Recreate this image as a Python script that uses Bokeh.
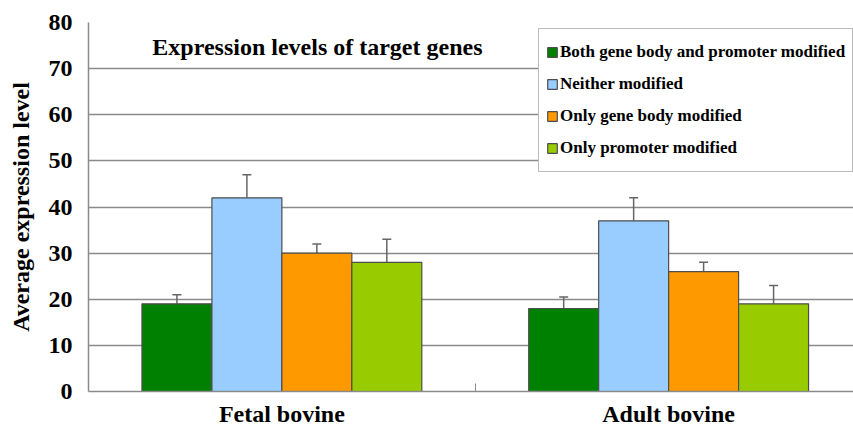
from bokeh.plotting import figure
from bokeh.models import (ColumnDataSource, Whisker, TeeHead, Legend, LegendItem,
                          FixedTicker, Label, Range1d)
from bokeh.embed import file_html
from bokeh.resources import INLINE

groups = ["Fetal bovine", "Adult bovine"]
series = ["Both gene body and promoter modified", "Neither modified",
          "Only gene body modified", "Only promoter modified"]
colors = ["#008000", "#99CCFF", "#FF9900", "#99CC00"]
values = {
    "Both gene body and promoter modified": [19, 18],
    "Neither modified": [42, 37],
    "Only gene body modified": [30, 26],
    "Only promoter modified": [28, 19],
}
errors = {
    "Both gene body and promoter modified": [2, 2.5],
    "Neither modified": [5, 5],
    "Only gene body modified": [2, 2],
    "Only promoter modified": [5, 4],
}
y_ticks = [0, 10, 20, 30, 40, 50, 60, 70, 80]
title_text = "Expression levels of target genes"
y_label = "Average expression level"

FONT = "Liberation Serif"
GRID = "#8a8a8a"

p = figure(width=853, height=429, output_backend="svg", toolbar_location=None,
           x_range=Range1d(0.5, 2.478), y_range=Range1d(0, 80),
           min_border_left=88, min_border_right=0, min_border_top=22,
           min_border_bottom=38, background_fill_color="white",
           border_fill_color="white")
p.outline_line_color = None

group_x = [i + 1 for i in range(len(groups))]
bar_w = 0.1809
renderers = []
for i, s in enumerate(series):
    xs = [g + (i - 1.5) * bar_w for g in group_x]
    top = values[s]
    up = [t + e for t, e in zip(top, errors[s])]
    src = ColumnDataSource(dict(x=xs, top=top, up=up))
    r = p.vbar(x="x", top="top", width=bar_w, source=src, fill_color=colors[i],
               line_color="#4d4d4d", line_width=1.2)
    renderers.append((s, r))
    w = Whisker(base="x", upper="up", lower="top", source=src,
                line_color="#666666", line_width=1.5,
                upper_head=TeeHead(size=9, line_color="#666666", line_width=1.5),
                lower_head=None)
    p.add_layout(w)

# axes
p.xaxis.ticker = FixedTicker(ticks=group_x, minor_ticks=[1.5])
p.xaxis.major_label_overrides = {g: groups[i] for i, g in enumerate(group_x)}
p.xaxis.major_label_text_font = FONT
p.xaxis.major_label_text_font_style = "bold"
p.xaxis.major_label_text_font_size = "24px"
p.xaxis.major_label_text_color = "black"
p.xaxis.major_label_standoff = 9
p.xaxis.major_tick_in = 0
p.xaxis.major_tick_out = 0
p.xaxis.minor_tick_in = 8
p.xaxis.minor_tick_out = 0
p.xaxis.minor_tick_line_color = GRID
p.xaxis.axis_line_color = GRID
p.xaxis.axis_line_width = 1.5

p.yaxis.ticker = FixedTicker(ticks=y_ticks)
p.yaxis.major_label_text_font = FONT
p.yaxis.major_label_text_font_style = "bold"
p.yaxis.major_label_text_font_size = "24px"
p.yaxis.major_label_text_color = "black"
p.yaxis.major_label_standoff = 16
p.yaxis.major_tick_in = 0
p.yaxis.major_tick_out = 0
p.yaxis.minor_tick_line_color = None
p.yaxis.axis_line_color = GRID
p.yaxis.axis_line_width = 1.5
p.yaxis.axis_label = y_label
p.yaxis.axis_label_text_font = FONT
p.yaxis.axis_label_text_font_style = "bold"
p.yaxis.axis_label_text_font_size = "24px"
p.yaxis.axis_label_text_color = "black"
p.yaxis.axis_label_standoff = 12

p.xgrid.grid_line_color = None
p.ygrid.grid_line_color = GRID
p.ygrid.grid_line_width = 1.5

# title inside plot
p.add_layout(Label(x=0.665, y=74.6, text=title_text, text_font=FONT,
                   text_font_style="bold", text_font_size="24px",
                   text_baseline="middle", text_color="black"))

legend = Legend(items=[LegendItem(label=s, renderers=[r]) for s, r in renderers],
                location=(450, 219), orientation="vertical",
                label_text_font=FONT, label_text_font_style="bold",
                label_text_font_size="17px", label_text_color="black",
                glyph_width=12, glyph_height=12, label_height=32,
                label_standoff=2, spacing=0, padding=7, margin=0,
                border_line_color="#777777", border_line_width=1.5,
                background_fill_color="white", background_fill_alpha=1)
p.add_layout(legend, "center")

open("out.html", "w").write(file_html(p, INLINE))
